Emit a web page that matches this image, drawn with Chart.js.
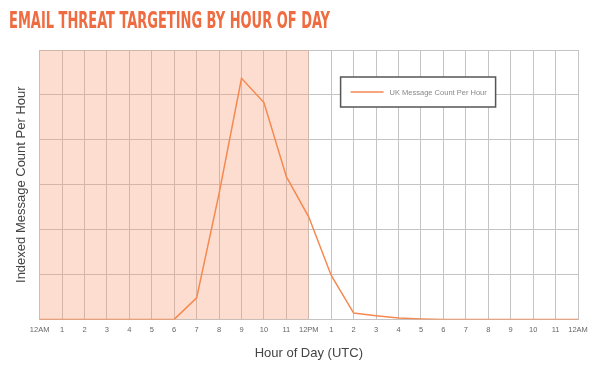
<!DOCTYPE html>
<html>
<head>
<meta charset="utf-8">
<script src="https://cdn.jsdelivr.net/npm/chart.js@4"></script>
<style>
  html, body { margin: 0; padding: 0; background: #fff; }
  #wrap { position: relative; width: 600px; height: 378px; }
  #title {
    position: absolute; left: 9px; top: 7px; z-index: 2;
    font-family: "DejaVu Sans Condensed", "Liberation Sans Narrow", sans-serif;
    font-weight: bold; font-size: 23px; color: #EF6B40;
    white-space: nowrap; transform-origin: left top;
  }
  #chart { position: absolute; left: 0; top: 0; }
</style>
</head>
<body>
<div id="wrap">
  <div id="title">EMAIL THREAT TARGETING BY HOUR OF DAY</div>
  <canvas id="chart" width="600" height="378"></canvas>
</div>
<script>
// hour labels along the bottom
const hourLabels = ['12AM', '1', '2', '3', '4', '5', '6', '7', '8', '9', '10', '11', '12PM',
  '1', '2', '3', '4', '5', '6', '7', '8', '9', '10', '11', '12AM'];

// indexed message count (grid step = 1)
const ukCounts = [0, 0, 0, 0, 0, 0, 0, 0.48, 2.8, 5.37, 4.83, 3.18, 2.28,
  0.98, 0.14, 0.08, 0.03, 0.01, 0, 0, 0, 0, 0, 0, 0];

// shaded working-hours band (label index range)
const shadeFrom = 0;
const shadeTo = 12;

const orange = '#F5894F';
const gridGray = '#C4C4C4';

// squeeze the title into the width it has in the original
const titleEl = document.getElementById('title');
titleEl.style.transform = 'scaleX(' + (321 / titleEl.offsetWidth) + ')';

const shadePlugin = {
  id: 'shade',
  beforeDatasetsDraw(chart) {
    const { ctx, chartArea, scales } = chart;
    const x0 = scales.x.getPixelForValue(shadeFrom);
    const x1 = scales.x.getPixelForValue(shadeTo);
    ctx.save();
    ctx.fillStyle = 'rgba(246, 150, 110, 0.32)';
    ctx.fillRect(x0, chartArea.top, x1 - x0, chartArea.bottom - chartArea.top);
    ctx.restore();
  }
};

const legendBoxPlugin = {
  id: 'legendBox',
  afterDraw(chart) {
    const { ctx, chartArea } = chart;
    const ds = chart.data.datasets[0];
    const bx = chartArea.left + 301, by = chartArea.top + 27, bw = 155, bh = 30;
    ctx.save();
    ctx.fillStyle = '#fff';
    ctx.fillRect(bx, by, bw, bh);
    ctx.strokeStyle = '#555';
    ctx.lineWidth = 1.5;
    ctx.strokeRect(bx, by, bw, bh);
    ctx.strokeStyle = ds.borderColor;
    ctx.lineWidth = 1.5;
    ctx.beginPath();
    ctx.moveTo(bx + 10, by + bh / 2);
    ctx.lineTo(bx + 43, by + bh / 2);
    ctx.stroke();
    ctx.fillStyle = '#888';
    ctx.font = '7.5px "Liberation Sans", Arial, sans-serif';
    ctx.textBaseline = 'middle';
    ctx.fillText(ds.label, bx + 49, by + bh / 2 + 0.5);
    ctx.restore();
  }
};

new Chart(document.getElementById('chart'), {
  type: 'line',
  data: {
    labels: hourLabels,
    datasets: [{
      label: 'UK Message Count Per Hour',
      data: ukCounts,
      borderColor: orange,
      borderWidth: 1.5,
      pointRadius: 0,
      tension: 0,
      fill: false
    }]
  },
  options: {
    responsive: false,
    animation: false,
    layout: { padding: { left: 14, right: 22, top: 50, bottom: 17 } },
    plugins: {
      legend: { display: false },
      tooltip: { enabled: false }
    },
    scales: {
      x: {
        offset: false,
        grid: { color: gridGray, lineWidth: 1, drawTicks: false },
        border: { color: gridGray },
        ticks: {
          color: '#666', padding: 6, maxRotation: 0, autoSkip: false,
          font: { family: '"Liberation Sans", Arial, sans-serif', size: 7.5 }
        },
        title: {
          display: true, text: 'Hour of Day (UTC)', color: '#444',
          font: { family: '"Liberation Sans", Arial, sans-serif', size: 13 },
          padding: { top: 5, bottom: 0 }
        }
      },
      y: {
        min: 0, max: 6,
        grid: { color: gridGray, lineWidth: 1, drawTicks: false },
        border: { color: gridGray },
        ticks: { display: false, stepSize: 1 },
        title: {
          display: true, text: 'Indexed Message Count Per Hour', color: '#444',
          font: { family: '"Liberation Sans", Arial, sans-serif', size: 13 },
          padding: { top: 0, bottom: 10 }
        }
      }
    }
  },
  plugins: [shadePlugin, legendBoxPlugin]
});
</script>
</body>
</html>
